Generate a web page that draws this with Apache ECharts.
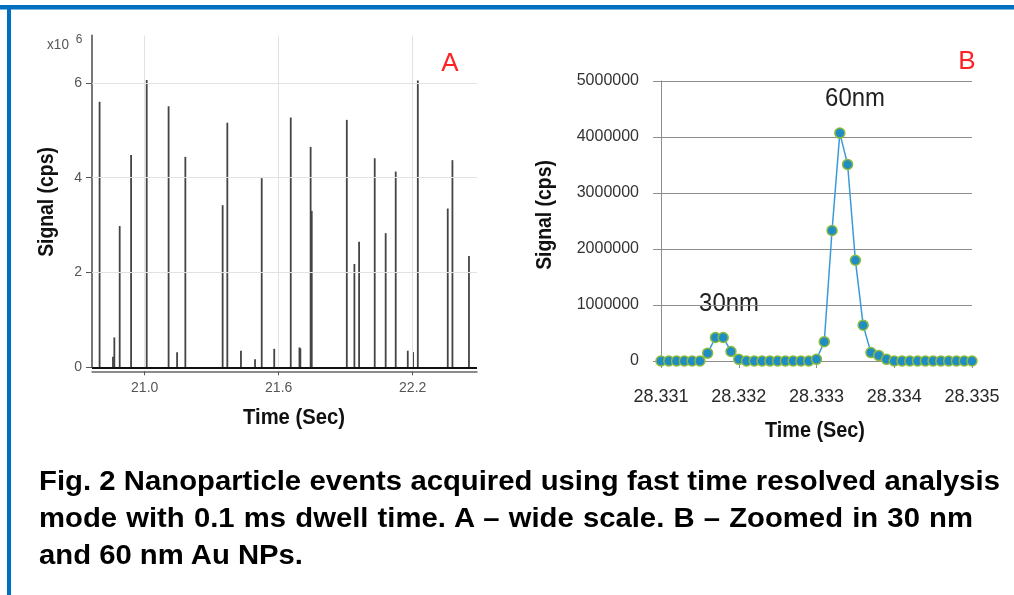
<!DOCTYPE html>
<html><head><meta charset="utf-8">
<script src="https://cdn.jsdelivr.net/npm/echarts@6/dist/echarts.min.js"></script>
<style>
html,body{margin:0;padding:0;background:#fff;}
#c{width:1014px;height:595px;position:absolute;left:0;top:0;}
.cap{position:absolute;left:39px;font-family:"Liberation Sans",Arial,sans-serif;font-weight:bold;font-size:28px;line-height:37px;color:#000;white-space:nowrap;transform-origin:0 0;}
</style></head>
<body>
<div id="c"></div>
<div class="cap" id="l1" data-w="961" style="top:462px;">Fig. 2 Nanoparticle events acquired using fast time resolved analysis</div>
<div class="cap" id="l2" data-w="934" style="top:499px;">mode with 0.1 ms dwell time. A – wide scale. B – Zoomed in 30 nm</div>
<div class="cap" id="l3" data-w="264" style="top:536px;">and 60 nm Au NPs.</div>
<script>
// Panel A: spike events (time in s, signal in x10^6 cps)
const spikeTimes = [20.798,20.858,20.864,20.888,20.939,21.009,21.107,21.145,21.182,
  21.349,21.370,21.431,21.494,21.524,21.580,21.654,21.693,21.697,21.743,21.748,
  21.905,21.939,21.960,22.030,22.079,22.124,22.178,22.202,22.223,22.357,22.378,22.452];
const spikeValues = [5.60,0.22,0.63,2.98,4.48,6.06,5.51,0.32,4.44,
  3.42,5.16,0.35,0.17,3.99,0.39,5.27,0.42,0.40,4.65,3.30,
  5.22,2.18,2.65,4.41,2.83,4.13,0.35,0.32,6.05,3.35,4.37,2.35];
const aYTicks = [0,2,4,6];
const aXTicks = [21.0,21.6,22.2];

// Panel B: zoomed trace
const bTimes = [28.3310,28.3311,28.3312,28.3313,28.3314,28.3315,28.3316,28.3317,28.3318,28.3319,
  28.3320,28.3321,28.3322,28.3323,28.3324,28.3325,28.3326,28.3327,28.3328,28.3329,
  28.3330,28.3331,28.3332,28.3333,28.3334,28.3335,28.3336,28.3337,28.3338,28.3339,
  28.3340,28.3341,28.3342,28.3343,28.3344,28.3345,28.3346,28.3347,28.3348,28.3349,28.3350];
const bSignal = [0,0,0,0,0,0,140000,420000,420000,170000,
  30000,0,0,0,0,0,0,0,0,0,
  30000,345000,2330000,4070000,3510000,1800000,640000,150000,100000,30000,
  0,0,0,0,0,0,0,0,0,0,0];

// caption: scale from the last (unjustified) line, justify the first two with word spacing
(function(){
  const l3 = document.getElementById('l3');
  const squeeze = parseFloat(l3.dataset.w) / l3.getBoundingClientRect().width;
  ['l1','l2','l3'].forEach(id=>{
    const el = document.getElementById(id);
    if (id !== 'l3') {
      const target = parseFloat(el.dataset.w);
      const nat = el.getBoundingClientRect().width;
      const spaces = (el.textContent.match(/ /g)||[]).length;
      el.style.wordSpacing = ((target/squeeze - nat)/spaces) + 'px';
    }
    el.style.transform = 'scaleX(' + squeeze + ')';
  });
})();

const sans = '"Liberation Sans",Arial,sans-serif';

const chart = echarts.init(document.getElementById('c'), null, {renderer:'canvas'});
function txt(x, y, text, font, fill, opts){
  return Object.assign({type:'text', x:x, y:y, silent:true,
    style:{text:text, font:font, fill:fill, textAlign:'center', textVerticalAlign:'middle'}}, opts||{});
}
const option = {
  animation:false,
  backgroundColor:'#fff',
  grid:[
    {left:92, top:35.5, width:385, height:331.8},
    {left:661, top:81, width:311, height:280}
  ],
  xAxis:[
    {gridIndex:0, type:'value', min:20.764, max:22.488, offset:4,
     axisLine:{show:true, onZero:false, lineStyle:{color:'#666', width:1.5}},
     axisTick:{show:true, customValues:aXTicks, length:4, lineStyle:{color:'#555'}},
     axisLabel:{customValues:aXTicks, formatter:v=>v.toFixed(1), color:'#555', fontFamily:sans, fontSize:14, margin:10},
     splitLine:{show:false}},
    {gridIndex:1, type:'value', min:28.331, max:28.335, interval:0.001,
     axisLine:{show:true, onZero:false, lineStyle:{color:'#8c8c8c', width:1}},
     axisTick:{show:true, length:7, lineStyle:{color:'#8c8c8c'}},
     axisLabel:{formatter:v=>v.toFixed(3), color:'#2a2a2a', fontFamily:sans, fontSize:18, margin:27},
     splitLine:{show:false}}
  ],
  yAxis:[
    {gridIndex:0, type:'value', min:0, max:7,
     axisLine:{show:true, lineStyle:{color:'#777', width:2}},
     axisTick:{show:true, customValues:aYTicks, length:6, lineStyle:{color:'#555'}},
     axisLabel:{customValues:aYTicks, color:'#555', fontFamily:sans, fontSize:14, margin:10},
     splitLine:{show:false}},
    {gridIndex:1, type:'value', min:0, max:5000000, interval:1000000,
     axisLine:{show:true, lineStyle:{color:'#8c8c8c', width:1}},
     axisTick:{show:true, length:8, lineStyle:{color:'#8c8c8c'}},
     axisLabel:{formatter:v=>String(v), color:'#333', fontFamily:sans, fontSize:16, margin:22},
     splitLine:{show:true, lineStyle:{color:'#8c8c8c', width:1}}}
  ],
  series:[
    {type:'bar', xAxisIndex:0, yAxisIndex:0, barWidth:1.8, silent:true,
     data: spikeTimes.map((t,i)=>[t, spikeValues[i]]),
     itemStyle:{color:'#444'},
     markLine:{silent:true, symbol:'none', label:{show:false}, animation:false,
       data:[
         ...aXTicks.map(v=>({xAxis:v, lineStyle:{color:'#e2e2e2', width:1, type:'solid'}})),
         ...aYTicks.filter(v=>v>0).map(v=>({yAxis:v, lineStyle:{color:'#e2e2e2', width:1, type:'solid'}})),
         {yAxis:0, lineStyle:{color:'#111', width:2, type:'solid'}}
       ]}, z:3},
    {type:'line', xAxisIndex:1, yAxisIndex:1, data: bTimes.map((t,i)=>[t, bSignal[i]]),
     lineStyle:{color:'#3a9ad9', width:1.5}, symbol:'circle', symbolSize:10, showSymbol:true,
     itemStyle:{color:'#1f8cc4', borderColor:'#8dbb3c', borderWidth:1.5}, silent:true}
  ],
  graphic:[
    {type:'rect', shape:{x:0, y:5, width:1014, height:4.5}, style:{fill:'#0070c0'}, silent:true},
    {type:'rect', shape:{x:7, y:5, width:4, height:590}, style:{fill:'#0070c0'}, silent:true},
    txt(47, 202, 'Signal (cps)', 'bold 22px '+sans, '#111', {rotation:Math.PI/2, scaleX:0.88}),
    txt(294, 418, 'Time (Sec)', 'bold 22px '+sans, '#111', {scaleX:0.92}),
    txt(545, 215, 'Signal (cps)', 'bold 22px '+sans, '#111', {rotation:Math.PI/2, scaleX:0.88}),
    txt(815, 431, 'Time (Sec)', 'bold 22px '+sans, '#111', {scaleX:0.9}),
    txt(58, 45, 'x10', '15px '+sans, '#555', {scaleX:0.9}),
    txt(79, 40, '6', '12px '+sans, '#555'),
    txt(450, 64, 'A', '26px '+sans, '#ff2222'),
    txt(967, 62, 'B', '26px '+sans, '#ff2222'),
    txt(855, 99, '60nm', '26px '+sans, '#222', {scaleX:0.92}),
    txt(729, 304, '30nm', '26px '+sans, '#222', {scaleX:0.92})
  ]
};
chart.setOption(option);
</script>
</body></html>
